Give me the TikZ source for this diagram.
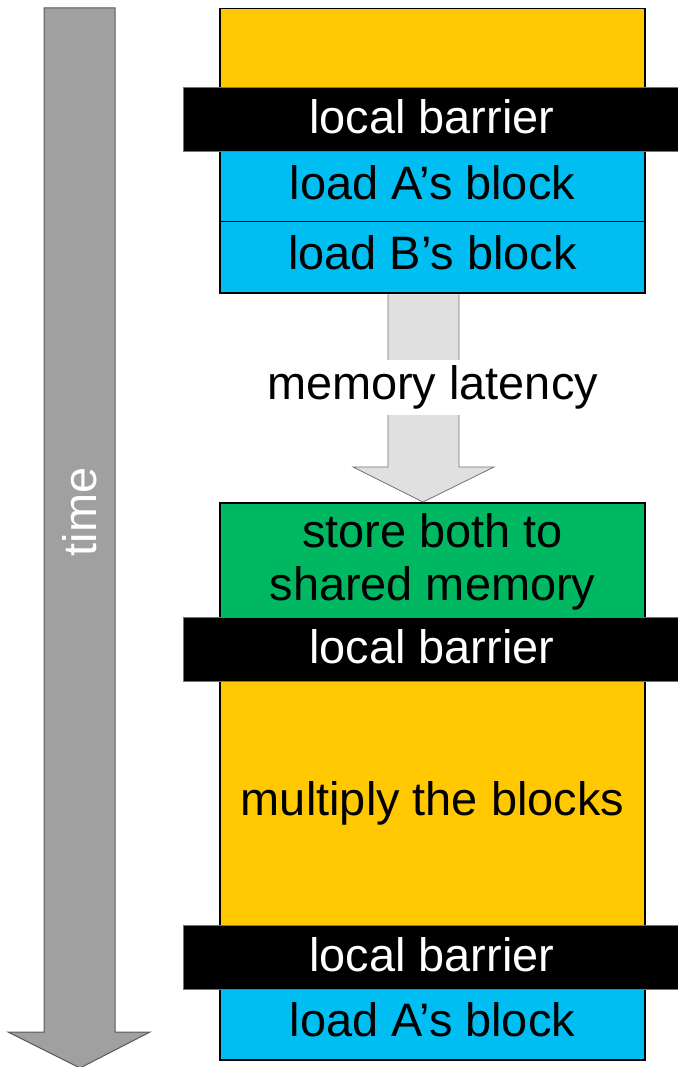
\documentclass[tikz,border=0pt]{standalone}
\usepackage{fontspec}
\setmainfont{Liberation Sans}
\usetikzlibrary{calc}
\definecolor{cOrange}{HTML}{FFC800}
\definecolor{cBlue}{HTML}{00BEF2}
\definecolor{cGreen}{HTML}{00B862}
\definecolor{cTime}{HTML}{A0A0A0}
\definecolor{cLat}{HTML}{E0E0E0}
\begin{document}
\begin{tikzpicture}[x=1pt,y=-1pt,
  bigfont/.style={font=\fontsize{46.9}{53}\selectfont},
  blk/.style={draw=black, line width=1.5pt, minimum width=425pt, inner sep=0pt,
    bigfont, align=center, anchor=north, text=black},
  blue/.style={fill=cBlue, text depth=9pt},
  barrier/.style={fill=black, draw=black!55, line width=0.8pt, minimum width=497pt,
    minimum height=64pt, inner sep=0pt, text=white, bigfont, anchor=north west,
    text depth=5pt},
  timearrow/.style={fill=cTime, draw=black!65, line width=1pt},
  latarrow/.style={fill=cLat, draw=black!55, line width=0.8pt},
]
\useasboundingbox (0,0) rectangle (677,1067);
\fill[white] (0,0) rectangle (677,1067);

% time arrow
\draw[timearrow] (44,8) -- (115,8) -- (115,1032) -- (150,1032) -- (80,1068)
  -- (8,1032) -- (44,1032) -- cycle;
\node[rotate=90, text=white, bigfont, inner sep=0pt] (time) at (79.5,512) {time};

% column blocks
\node[blk, fill=cOrange, minimum height=82pt] (top) at (432.5,8) {};
\node[blk, blue, minimum height=70pt] (lA) at (432.5,151) {load A’s block};
\node[blk, blue, minimum height=71pt] (lB) at (432.5,221) {load B’s block};
\node[blk, fill=cGreen, minimum height=118pt] (store) at (432.5,502) {store both to\\shared memory};
\node[blk, fill=cOrange, minimum height=247pt] (mult) at (432.5,679) {multiply the blocks};
\node[blk, blue, minimum height=72pt] (lA2) at (432.5,987) {load A’s block};

% barriers
\node[barrier] (b1) at (183,87) {local barrier};
\node[barrier] (b2) at (183,617) {local barrier};
\node[barrier] (b3) at (183,925) {local barrier};

% memory latency arrow
\draw[latarrow] ($(lB.south)+(-44.5,0.8)$) -- ($(store.north)+(-44.5,-35)$)
  -- ($(store.north)+(-79.5,-35)$) -- ($(store.north)+(-9.5,0)$)
  -- ($(store.north)+(61.5,-35)$) -- ($(store.north)+(26.5,-35)$)
  -- ($(lB.south)+(26.5,0.8)$);
\node[fill=white, bigfont, inner xsep=0pt, inner ysep=0pt, minimum height=55pt] (lat)
  at (432.5,387.5) {memory latency};
\end{tikzpicture}
\end{document}
